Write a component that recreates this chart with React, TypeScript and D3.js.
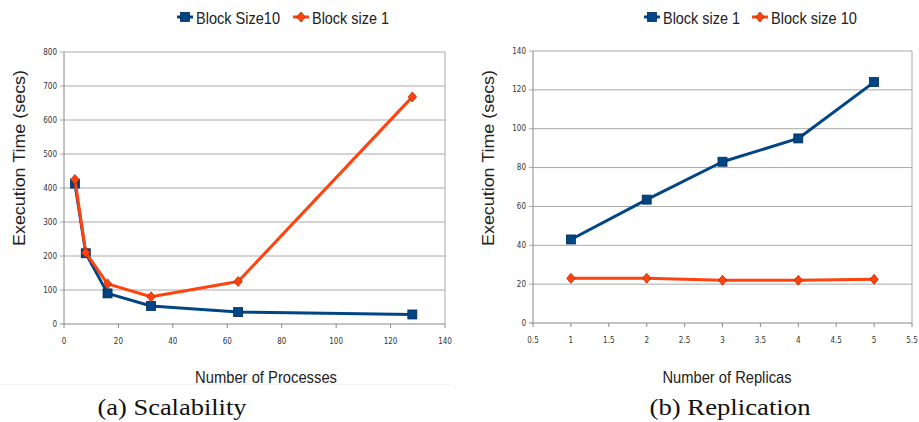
import React from "react";
import * as d3 from "d3";

// (a) Scalability
const procCounts = [4, 8, 16, 32, 64, 128];
const procBlockSize10 = [413, 208, 90, 53, 35, 28];
const procBlockSize1 = [425, 210, 118, 80, 125, 668];
const procXTicks = [0, 20, 40, 60, 80, 100, 120, 140];
const procYTicks = [0, 100, 200, 300, 400, 500, 600, 700, 800];

// (b) Replication
const replicaCounts = [1, 2, 3, 4, 5];
const replBlockSize1 = [43, 63.5, 83, 95, 124];
const replBlockSize10 = [23, 23, 22, 22, 22.5];
const replXTicks = [0.5, 1, 1.5, 2, 2.5, 3, 3.5, 4, 4.5, 5, 5.5];
const replYTicks = [0, 20, 40, 60, 80, 100, 120, 140];

const BLUE = "#004586";
const ORANGE = "#ff420e";
const tickFont = "'DejaVu Sans Condensed', 'Liberation Sans', sans-serif";
const labelFont = "'Liberation Sans', Arial, sans-serif";

type Series = { name: string; xs: number[]; ys: number[]; color: string; marker: "square" | "diamond" };

const Marker = ({ x, y, kind, color }: { x: number; y: number; kind: string; color: string }) =>
  kind === "square" ? (
    <rect x={x - 4.5} y={y - 4.5} width={9} height={9} fill={color} stroke="#002a55" strokeWidth={0.8} />
  ) : (
    <path d={`M${x},${y - 5}L${x + 4.2},${y}L${x},${y + 5}L${x - 4.2},${y}Z`} fill={color} stroke="#b52a00" strokeWidth={0.8} />
  );

const Panel = (props: {
  box: { x0: number; x1: number; y0: number; y1: number };
  xDomain: [number, number];
  yDomain: [number, number];
  xTicks: number[];
  yTicks: number[];
  series: Series[];
  legendX: number[];
  legendW: number[];
  yTitleX: number;
  xTitle: string;
  xTitleX: number;
  xTitleW: number;
  caption: string;
  captionX: number;
  captionW: number;
}) => {
  const { box } = props;
  const x = d3.scaleLinear().domain(props.xDomain).range([box.x0, box.x1]);
  const y = d3.scaleLinear().domain(props.yDomain).range([box.y1, box.y0]);
  const line = d3.line<[number, number]>().x((d) => x(d[0])).y((d) => y(d[1]));

  return (
    <g>
      {props.yTicks.map((t) => (
        <g key={"y" + t}>
          <line x1={box.x0 - 4} x2={box.x1} y1={y(t)} y2={y(t)} stroke={t === props.yDomain[0] ? "#888" : "#a8a8a8"} strokeWidth={1} />
          <text x={box.x0 - 7} y={y(t)} textAnchor="end" dominantBaseline="central" fontSize={8} fontFamily={tickFont} fill="#333">
            {t}
          </text>
        </g>
      ))}
      {props.xTicks.map((t) => (
        <g key={"x" + t}>
          <line x1={x(t)} x2={x(t)} y1={box.y1} y2={box.y1 + 4} stroke="#888" />
          <text x={x(t)} y={box.y1 + 20} textAnchor="middle" fontSize={8} fontFamily={tickFont} fill="#333">
            {t}
          </text>
        </g>
      ))}
      <line x1={box.x0} x2={box.x0} y1={box.y0} y2={box.y1} stroke="#888" />
      <line x1={box.x1} x2={box.x1} y1={box.y0} y2={box.y1} stroke="#a8a8a8" />

      {props.series.map((s) => (
        <g key={s.name}>
          <path d={line(s.xs.map((v, i) => [v, s.ys[i]]) as [number, number][]) || ""} fill="none" stroke={s.color} strokeWidth={3} strokeLinejoin="round" />
          {s.xs.map((v, i) => (
            <Marker key={i} x={x(v)} y={y(s.ys[i])} kind={s.marker} color={s.color} />
          ))}
        </g>
      ))}

      {props.series.map((s, i) => (
        <g key={"lg" + s.name}>
          <line x1={props.legendX[i] - 8} x2={props.legendX[i] + 8} y1={17} y2={17} stroke={s.color} strokeWidth={3} />
          <Marker x={props.legendX[i]} y={17} kind={s.marker} color={s.color} />
          <text
            x={props.legendX[i] + 11}
            y={23.5}
            fontSize={17}
            fontFamily={labelFont}
            fill="#222"
            textLength={props.legendW[i]}
            lengthAdjust="spacingAndGlyphs"
          >
            {s.name}
          </text>
        </g>
      ))}

      <text
        transform={`translate(${props.yTitleX},158) rotate(-90)`}
        textAnchor="middle"
        dominantBaseline="central"
        fontSize={17}
        fontFamily={labelFont}
        textLength={176}
        lengthAdjust="spacingAndGlyphs"
        fill="#222"
      >
        Execution Time (secs)
      </text>
      <text
        x={props.xTitleX - props.xTitleW / 2}
        y={383}
        fontSize={16.5}
        fontFamily={labelFont}
        fill="#222"
        textLength={props.xTitleW}
        lengthAdjust="spacingAndGlyphs"
      >
        {props.xTitle}
      </text>
      <text
        x={props.captionX - props.captionW / 2}
        y={415}
        fontSize={24}
        fontFamily="'Liberation Serif', serif"
        fill="#111"
        textLength={props.captionW}
        lengthAdjust="spacingAndGlyphs"
      >
        {props.caption}
      </text>
    </g>
  );
};

export default function App() {
  return (
    <svg width={919} height={422} style={{ position: "absolute", left: 0, top: 0, background: "#fff" }}>
      <rect width={919} height={422} fill="#fff" />
      <line x1={0} x2={450} y1={384.5} y2={384.5} stroke="#f0f0f0" />
      <Panel
        box={{ x0: 64, x1: 445, y0: 52, y1: 324 }}
        xDomain={[0, 140]}
        yDomain={[0, 800]}
        xTicks={procXTicks}
        yTicks={procYTicks}
        series={[
          { name: "Block Size10", xs: procCounts, ys: procBlockSize10, color: BLUE, marker: "square" },
          { name: "Block size 1", xs: procCounts, ys: procBlockSize1, color: ORANGE, marker: "diamond" },
        ]}
        legendX={[185, 301]}
        legendW={[84, 77]}
        yTitleX={19}
        xTitle="Number of Processes"
        xTitleX={266}
        xTitleW={142}
        caption="(a) Scalability"
        captionX={172}
        captionW={149}
      />
      <Panel
        box={{ x0: 533, x1: 912, y0: 51, y1: 323 }}
        xDomain={[0.5, 5.5]}
        yDomain={[0, 140]}
        xTicks={replXTicks}
        yTicks={replYTicks}
        series={[
          { name: "Block size 1", xs: replicaCounts, ys: replBlockSize1, color: BLUE, marker: "square" },
          { name: "Block size 10", xs: replicaCounts, ys: replBlockSize10, color: ORANGE, marker: "diamond" },
        ]}
        legendX={[652, 760]}
        legendW={[77, 86]}
        yTitleX={488}
        xTitle="Number of Replicas"
        xTitleX={727}
        xTitleW={129}
        caption="(b) Replication"
        captionX={730}
        captionW={161}
      />
    </svg>
  );
}
